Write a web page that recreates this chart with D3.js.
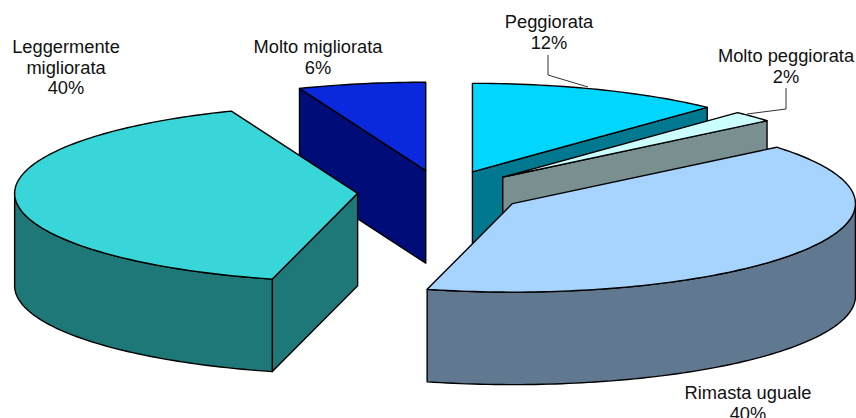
<!DOCTYPE html>
<html><head><meta charset="utf-8">
<script src="https://cdn.jsdelivr.net/npm/d3@7/dist/d3.min.js"></script>
<style>html,body{margin:0;padding:0;background:#fff;overflow:hidden}svg{display:block}</style>
</head><body><svg id="c" width="856" height="418"></svg>
<script>
const categories = ["Peggiorata","Molto peggiorata","Rimasta uguale","Leggermente migliorata","Molto migliorata"];
const percentages = [12,2,40,40,6];
const topColors = ["#00D6FF","#CCFFFF","#A6D4FF","#38D6D8","#0A28DC"];
const sideColors = ["#007890","#7A9090","#607890","#1E7878","#000C78"];
const labelLines = [["Peggiorata","12%"],["Molto peggiorata","2%"],["Rimasta uguale","40%"],["Leggermente","migliorata","40%"],["Molto migliorata","6%"]];
const labelX = [549,786,748,66,318];
const labelY = [28,62,399,53,53];
const leaders = [[[548,55],[548,75],[588,87]],[[786,88],[786,109],[747,114]],null,null,null];

const W=856,H=418,cx=441.5,cy=192,rx=343,ry=88.5,depth=92.5,explode=0.245,fontSize=18.3,lineGap=20.5;
const svg=d3.select("#c");
const sx=d3.scaleLinear().domain([-1,1]).range([cx-rx,cx+rx]);
const sy=d3.scaleLinear().domain([-1,1]).range([cy+ry,cy-ry]);
const arcs=d3.pie().sort(null).value(d=>d)(percentages).map((a,i)=>({...a,i,mid:(a.startAngle+a.endAngle)/2}));
const line=d3.line();
function pt(a,r,ox,oy,dz){return [sx(r*Math.sin(a)+ox),sy(r*Math.cos(a)+oy)+dz];}
function arcPts(a0,a1,ox,oy,dz){
  const n=Math.max(2,Math.ceil((a1-a0)/0.02));
  return d3.range(n+1).map(k=>pt(a0+(a1-a0)*k/n,1,ox,oy,dz));
}
const g=svg.append("g").attr("stroke","#000").attr("stroke-width",1.4).attr("stroke-linejoin","round");
arcs.slice().sort((a,b)=>Math.cos(b.mid)-Math.cos(a.mid)).forEach(d=>{
  const ox=explode*Math.sin(d.mid),oy=explode*Math.cos(d.mid);
  const apex=pt(0,0,ox,oy,0),apexB=pt(0,0,ox,oy,depth);
  const face=a=>line([apex,pt(a,1,ox,oy,0),pt(a,1,ox,oy,depth),apexB])+"Z";
  if(Math.sin(d.startAngle)<-1e-6) g.append("path").attr("d",face(d.startAngle)).attr("fill",sideColors[d.i]);
  if(Math.sin(d.endAngle)>1e-6) g.append("path").attr("d",face(d.endAngle)).attr("fill",sideColors[d.i]);
  const w0=Math.max(d.startAngle,Math.PI/2),w1=Math.min(d.endAngle,3*Math.PI/2);
  if(w1>w0){
    const top=arcPts(w0,w1,ox,oy,0),bot=arcPts(w0,w1,ox,oy,depth).reverse();
    g.append("path").attr("d",line(top.concat(bot))+"Z").attr("fill",sideColors[d.i]);
  }
  g.append("path").attr("d",line([apex].concat(arcPts(d.startAngle,d.endAngle,ox,oy,0)))+"Z").attr("fill",topColors[d.i]);
});
leaders.forEach(l=>{ if(l) svg.append("path").attr("d",line(l)).attr("fill","none").attr("stroke","#333").attr("stroke-width",1); });
labelLines.forEach((ls,i)=>{
  const t=svg.append("text").attr("text-anchor","middle").attr("font-family","'Liberation Sans',Arial,sans-serif").attr("font-size",fontSize).attr("fill","#111");
  ls.forEach((s,k)=>t.append("tspan").attr("x",labelX[i]).attr("y",labelY[i]+k*lineGap).text(s));
});
</script></body></html>
